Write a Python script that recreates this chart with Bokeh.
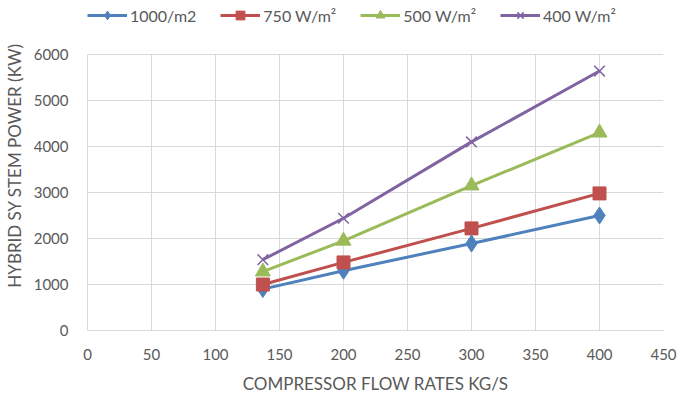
from bokeh.plotting import figure
from bokeh.models import Legend, LegendItem, Range1d, SingleIntervalTicker, FixedTicker
from bokeh.embed import file_html
from bokeh.resources import INLINE

flow = [137, 200, 300, 400]
p1000 = [900, 1300, 1890, 2500]
p750 = [1000, 1480, 2220, 2980]
p500 = [1280, 1950, 3150, 4300]
p400 = [1540, 2440, 4100, 5640]
labels = ["1000/m2", "750 W/m\u00b2", "500 W/m\u00b2", "400 W/m\u00b2"]
y_ticks = [0, 1000, 2000, 3000, 4000, 5000, 6000]
colors = ["#4F81BD", "#C0504D", "#9BBB59", "#8064A2"]
markers = ["diamond", "square", "triangle", "x"]
msizes = [17, 13, 15, 15]
mwidths = [1, 1, 1, 1.5]

FONT = "Lato"
TXT = "#595959"
GRID = "#d9d9d9"

# frame extends to the top of the figure so the legend (drawn inside the frame) is not clipped
Y_TOP = 6000 * 330 / 276

p = figure(width=686, height=398, output_backend="svg", toolbar_location=None,
           x_range=Range1d(0, 450), y_range=Range1d(0, Y_TOP),
           min_border_left=86, min_border_right=23, min_border_top=0, min_border_bottom=68)
p.outline_line_color = None
p.background_fill_color = "white"
p.border_fill_color = "white"

p.xaxis.ticker = SingleIntervalTicker(interval=50)
p.yaxis.ticker = FixedTicker(ticks=y_ticks)
p.yaxis.bounds = (0, 6000)
for ax in (p.xaxis, p.yaxis):
    ax.major_tick_line_color = None
    ax.minor_tick_line_color = None
    ax.axis_line_color = GRID
    ax.major_label_text_font = FONT
    ax.major_label_text_font_size = "15px"
    ax.major_label_text_color = TXT
    ax.axis_label_text_font = FONT
    ax.axis_label_text_font_size = "17px"
    ax.axis_label_text_font_style = "normal"
    ax.axis_label_text_color = TXT
p.xaxis.axis_label = "COMPRESSOR FLOW RATES KG/S"
p.yaxis.axis_label = "HYBRID SY STEM POWER (KW)"
p.xaxis.major_label_standoff = 12
p.yaxis.major_label_standoff = 13
p.xaxis.axis_label_standoff = 10
p.yaxis.axis_label_standoff = 6
p.xgrid.grid_line_color = GRID
p.ygrid.grid_line_color = GRID
try:
    p.xgrid.cross_bounds = (0, 6000)
except Exception:
    pass

series = [p1000, p750, p500, p400]
items = []
for vals, lab, c, m, s, w in zip(series, labels, colors, markers, msizes, mwidths):
    r1 = p.line(flow, vals, line_color=c, line_width=3)
    r2 = p.scatter(flow, vals, marker=m, size=s, fill_color=c, line_color=c, line_width=w)
    items.append(LegendItem(label=lab, renderers=[r1, r2]))

legend = Legend(items=items, orientation="horizontal", location=(0, 304),
                glyph_width=40, glyph_height=22, label_standoff=3, spacing=24,
                padding=0, margin=0, border_line_color=None, background_fill_alpha=0,
                label_text_font=FONT, label_text_font_size="16px", label_text_color=TXT)
p.add_layout(legend, "center")

open("out.html", "w").write(file_html(p, INLINE))
